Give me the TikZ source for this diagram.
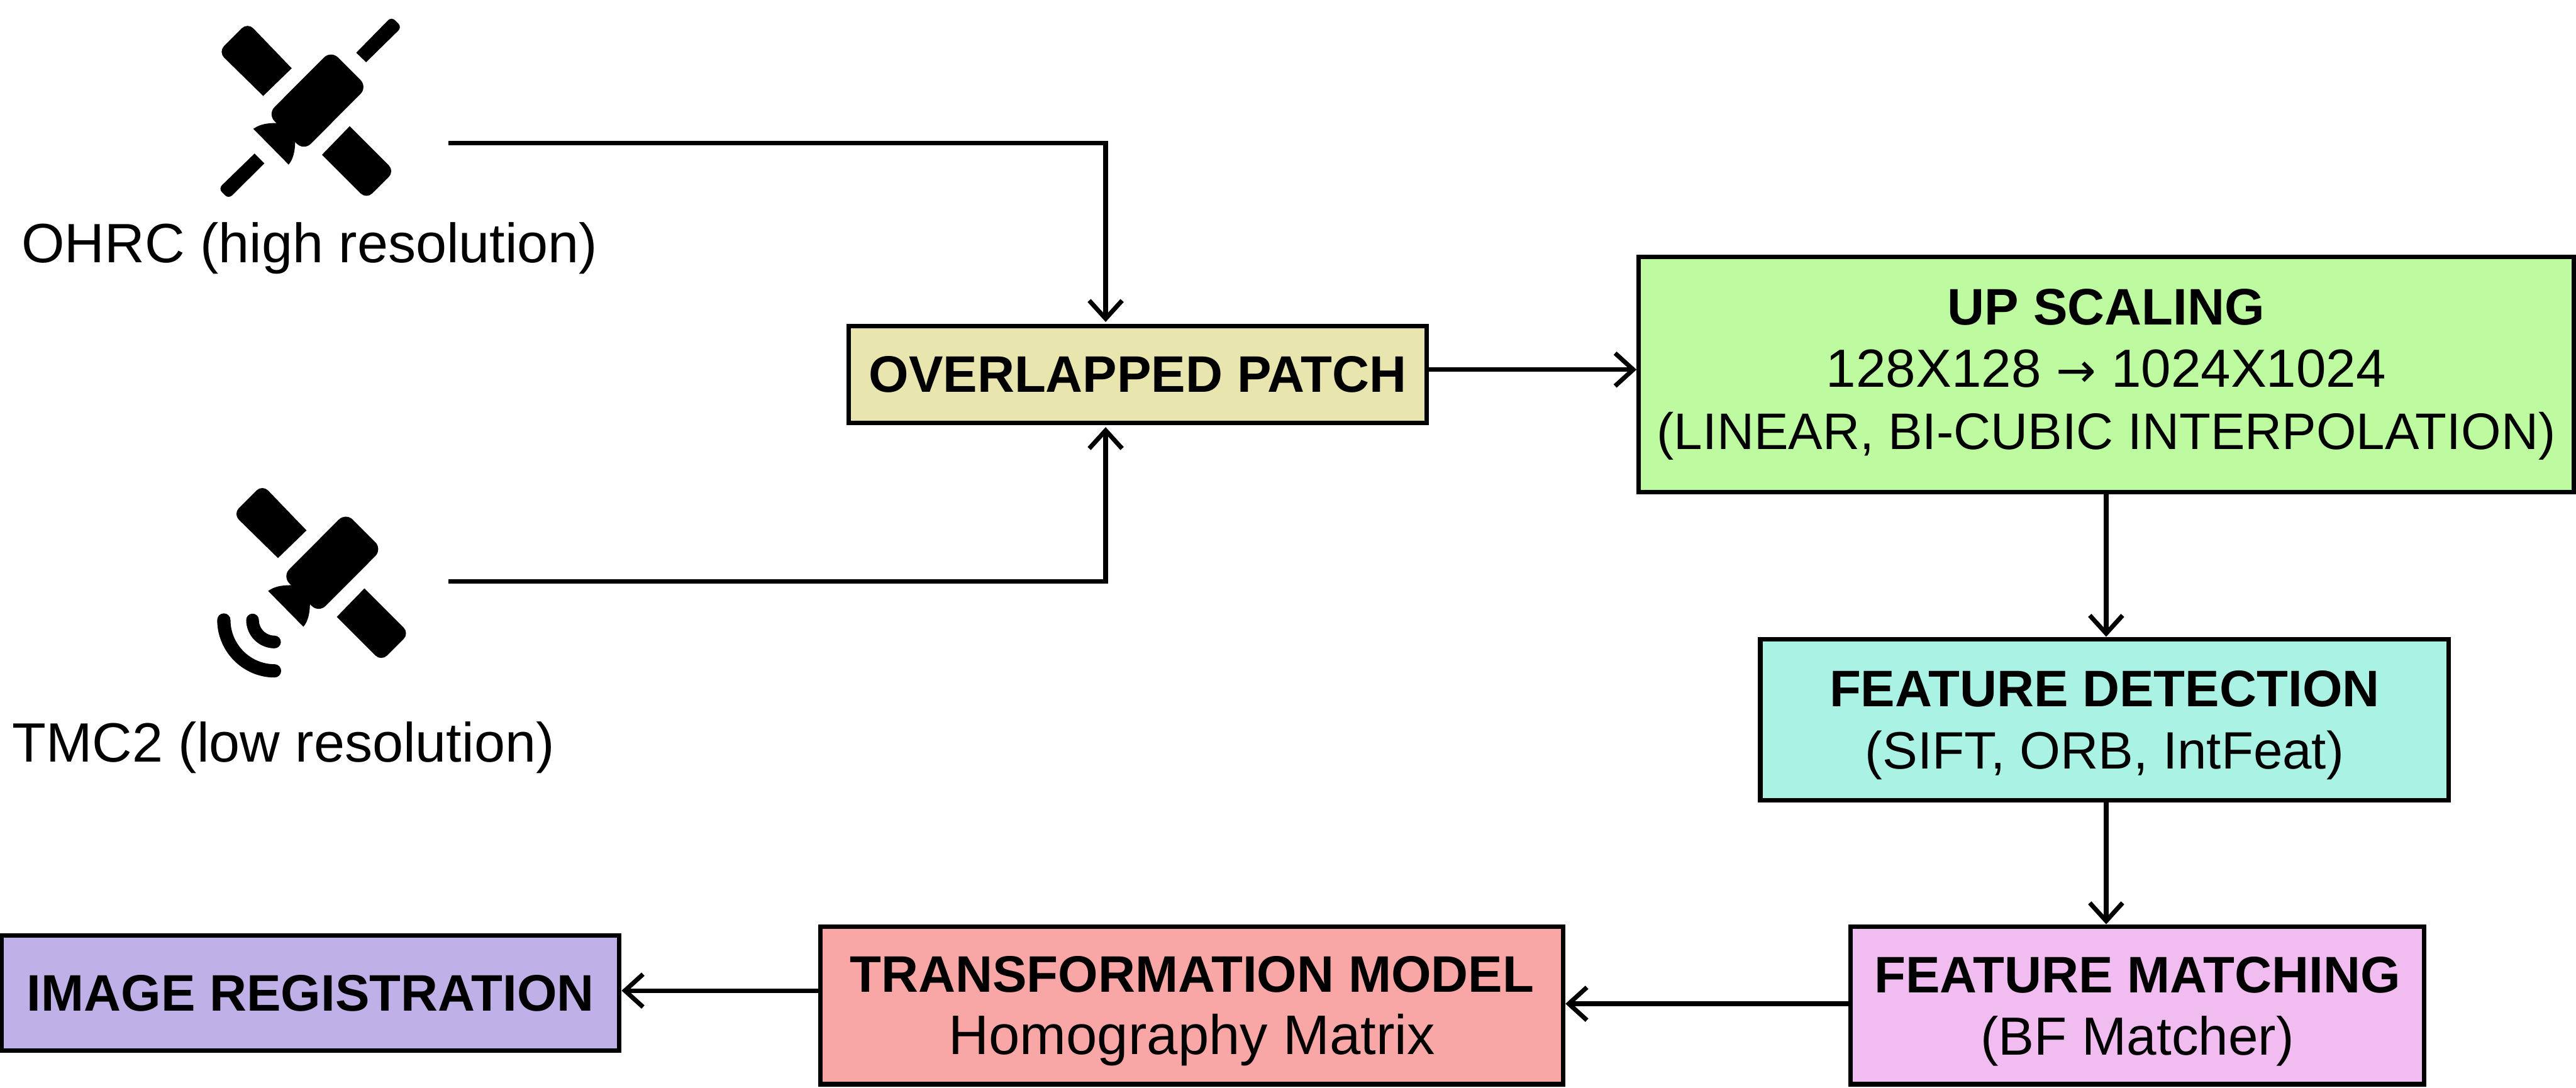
\documentclass[tikz,border=0pt]{standalone}
\usepackage{fontspec}
\setmainfont{Liberation Sans}
\newfontfamily\arrowfont{DejaVu Sans}
\usetikzlibrary{arrows.meta}
\definecolor{patchcol}{HTML}{E8E6AE}
\definecolor{upcol}{HTML}{BEFBA0}
\definecolor{detectcol}{HTML}{AAF3E4}
\definecolor{matchcol}{HTML}{F1BDF0}
\definecolor{modelcol}{HTML}{F9A6A6}
\definecolor{regcol}{HTML}{C0B0E8}
\newcommand{\sizedline}[1]{\fontsize{#1}{10.8}\selectfont}
\newcommand{\headline}{\rule{0pt}{.29cm}}
\tikzset{
  procbox/.style={draw,line width=.78pt,inner sep=0pt,align=center,font=\fontsize{8.9}{10.8}\selectfont},
  flow/.style={line width=.78pt,-{Straight Barb[length=.11cm,width=.2cm]}},
  sourcelabel/.style={inner sep=0pt,font=\fontsize{9.6}{10.8}\selectfont},
  satbody/.pic={
    \begin{scope}[x=.00106cm,y=-.00106cm]
      \fill (630,395) -- (465,555) [rounded corners=.05cm] -- (205,300) -- (375,130) [sharp corners] -- cycle;
      \fill (805,895) -- (965,730) [rounded corners=.05cm] -- (1225,990) -- (1062,1152) [sharp corners] -- cycle;
      \fill[rounded corners=.06cm] (857,292) -- (1068,503) -- (700,872) -- (490,660) -- cycle;
      \fill (408,745) .. controls (450,715) and (500,710) .. (560,712) -- (650,810) .. controls (650,870) and (640,920) .. (612,952) -- cycle;
    \end{scope}
  }
}
\begin{document}
\begin{tikzpicture}
\useasboundingbox (0,0) rectangle (15.68,6.62);

\pic at (1.1125,6.62) {satbody};
\begin{scope}[shift={(1.1125,6.62)},x=.00106cm,y=-.00106cm]
  \fill (1003,305) -- (1060,360) [rounded corners=.03cm] -- (1267,157) -- (1207,97) [sharp corners] -- cycle;
  \fill (415,888) -- (472,945) [rounded corners=.03cm] -- (265,1150) -- (206,1091) [sharp corners] -- cycle;
\end{scope}
\pic at (1.2025,3.807) {satbody};
\begin{scope}[shift={(1.2025,3.807)},x=.00106cm,y=-.00106cm,line cap=round]
  \draw[line width=2.2pt] (318,913) .. controls (318,983) and (375,1040) .. (445,1040);
  \draw[line width=2.3pt] (152,913) .. controls (152,1074) and (284,1207) .. (445,1207);
\end{scope}

\node[sourcelabel] (ohrc) at (1.885,5.11) {OHRC (high resolution)};
\node[sourcelabel] (tmc) at (1.725,2.07) {TMC2 (low resolution)};

\node[procbox,fill=patchcol,minimum width=3.52cm,minimum height=.59cm] (patch) at (6.925,4.34) {\textbf{OVERLAPPED PATCH}};
\node[procbox,fill=upcol,minimum width=5.69cm,minimum height=1.43cm] (upscale) at (12.82,4.34) {\textbf{UP SCALING}\\\sizedline{9.3}128X128 {\arrowfont\sizedline{8.3}→} 1024X1024\\(LINEAR, BI-CUBIC INTERPOLATION)};
\node[procbox,fill=detectcol,minimum width=4.19cm,minimum height=.98cm] (detect) at (12.81,2.24) {\headline\textbf{FEATURE DETECTION}\\\sizedline{9.1}(SIFT, ORB, IntFeat)};
\node[procbox,fill=matchcol,minimum width=3.49cm,minimum height=.96cm] (match) at (13.01,.50) {\headline\textbf{FEATURE MATCHING}\\\sizedline{9.3}(BF Matcher)};
\node[procbox,fill=modelcol,minimum width=4.52cm,minimum height=.96cm] (model) at (7.255,.50) {\headline\textbf{TRANSFORMATION MODEL}\\\sizedline{9.65}Homography Matrix};
\node[procbox,fill=regcol,minimum width=3.76cm,minimum height=.70cm] (reg) at (1.89,.575) {\textbf{IMAGE REGISTRATION}};

\coordinate (ohrcout) at (2.73,5.75);
\coordinate (tmcout) at (2.73,3.08);
\coordinate (patchtop) at (6.73,4.66);
\coordinate (patchbot) at (6.73,4.02);

\draw[flow] (ohrcout) -| (patchtop);
\draw[flow] (tmcout) -| (patchbot);
\draw[flow] (patch.east |- 0,4.37) -- (upscale.west |- 0,4.37);
\draw[flow] (upscale.south) -- (upscale.south |- detect.north);
\draw[flow] (upscale.south |- detect.south) -- (upscale.south |- match.north);
\draw[flow] (match.west |- 0,.51) -- (model.east |- 0,.51);
\draw[flow] (model.west |- 0,.59) -- (reg.east |- 0,.59);
\end{tikzpicture}
\end{document}
